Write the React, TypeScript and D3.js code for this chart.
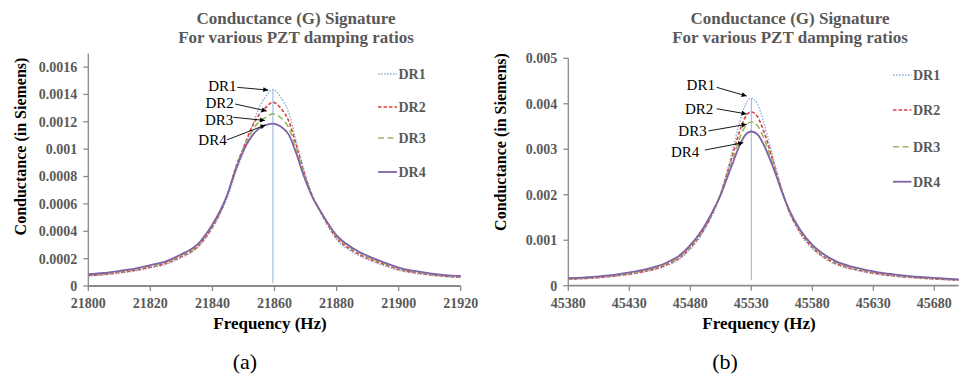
import React from "react";
import * as d3 from "d3";

// ---------- DATA ----------
const seriesNames = ["DR1", "DR2", "DR3", "DR4"];

// Panel (a)
const freqA = [21800, 21805, 21810, 21815, 21820, 21825, 21830, 21835, 21840, 21842.5, 21845, 21847.5, 21850, 21852.5, 21855, 21857, 21859.5, 21862, 21864.5, 21867, 21869.5, 21872, 21875, 21880, 21885, 21890, 21895, 21900, 21905, 21910, 21915, 21920];
const dr1A = [0.0000728, 0.0000808, 0.000094, 0.000109, 0.000132, 0.000158, 0.000207, 0.000275, 0.000423, 0.000529, 0.00066, 0.00083, 0.00098, 0.00115, 0.0013, 0.00138, 0.001436, 0.00138, 0.00127, 0.00106, 0.00085, 0.00067, 0.00053, 0.00034, 0.00025, 0.000193, 0.000151, 0.000115, 0.0000937, 0.0000789, 0.0000676, 0.0000615];
const dr2A = [0.0000771, 0.0000853, 0.0000993, 0.000115, 0.000139, 0.000166, 0.000216, 0.000284, 0.000433, 0.000538, 0.000678, 0.000867, 0.00101, 0.00115, 0.00125, 0.0013, 0.001343, 0.0013, 0.00121, 0.00103, 0.00083, 0.000668, 0.000535, 0.000352, 0.000261, 0.000202, 0.00016, 0.000121, 0.000099, 0.0000834, 0.0000716, 0.0000652];
const dr3A = [0.0000819, 0.0000905, 0.000105, 0.000122, 0.000146, 0.000174, 0.000225, 0.000293, 0.000443, 0.000546, 0.00068, 0.00086, 0.00101, 0.00112, 0.0012, 0.00123, 0.001258, 0.00123, 0.00116, 0.001, 0.000818, 0.000667, 0.000539, 0.000363, 0.000272, 0.000212, 0.000168, 0.000128, 0.000105, 0.0000885, 0.000076, 0.0000693];
const dr4A = [0.000086, 0.000095, 0.00011, 0.000127, 0.000152, 0.00018, 0.000232, 0.0003, 0.00045, 0.00055, 0.00068, 0.00085, 0.00099, 0.00109, 0.00115, 0.001175, 0.001187, 0.001165, 0.00111, 0.00097, 0.0008, 0.00066, 0.00054, 0.00037, 0.00028, 0.00022, 0.000175, 0.000134, 0.00011, 0.000093, 0.00008, 0.000073];
const dipFreqA = 21859.5;
const dipValuesA = [0.001436, 0.00002];
const xTicksA = [21800, 21820, 21840, 21860, 21880, 21900, 21920];
const xTickLabelsA = ["21800", "21820", "21840", "21860", "21880", "21900", "21920"];
const yTicksA = [0, 0.0002, 0.0004, 0.0006, 0.0008, 0.001, 0.0012, 0.0014, 0.0016];
const yTickLabelsA = ["0", "0.0002", "0.0004", "0.0006", "0.0008", "0.001", "0.0012", "0.0014", "0.0016"];
const annotLabelA = [[21847.8, 0.001464], [21846.9, 0.00134], [21846.7, 0.001213], [21844.6, 0.001072]];
const annotTailA = [[21848.0, 0.001452], [21847.3, 0.00133], [21846.75, 0.001233], [21844.6, 0.001067]];
const annotHeadA = [[21858.0, 0.001432], [21857.5, 0.001279], [21856.9, 0.00121], [21857.1, 0.001177]];

// Panel (b)
const freqB = [45380, 45400, 45420, 45440, 45460, 45470, 45480, 45490, 45500, 45505, 45510, 45515, 45520, 45525, 45530, 45535, 45540, 45545, 45550, 45555, 45560, 45570, 45580, 45590, 45600, 45620, 45640, 45660, 45680, 45700];
const dr1B = [0.000139, 0.000164, 0.000211, 0.000289, 0.000434, 0.000563, 0.000804, 0.001158, 0.001679, 0.00204, 0.0025, 0.00301, 0.00355, 0.00397, 0.00412, 0.004, 0.00361, 0.00311, 0.0026, 0.00211, 0.00169, 0.00115, 0.000813, 0.000598, 0.00046, 0.000315, 0.000228, 0.000176, 0.000143, 0.000118];
const dr2B = [0.000146, 0.000173, 0.000223, 0.000304, 0.000455, 0.000589, 0.000837, 0.001189, 0.0017, 0.00203, 0.00245, 0.0029, 0.00336, 0.0037, 0.00382, 0.00372, 0.00341, 0.003, 0.00254, 0.0021, 0.00171, 0.00118, 0.000846, 0.000626, 0.000482, 0.000331, 0.00024, 0.000186, 0.000151, 0.000124];
const dr3B = [0.000156, 0.000184, 0.000237, 0.000323, 0.000479, 0.000617, 0.000865, 0.001219, 0.001711, 0.002014, 0.00241, 0.0028, 0.00321, 0.0035, 0.0036, 0.00352, 0.00326, 0.0029, 0.0025, 0.00208, 0.00172, 0.00121, 0.000875, 0.000655, 0.000508, 0.000352, 0.000256, 0.000198, 0.000161, 0.000132];
const dr4B = [0.000165, 0.000195, 0.00025, 0.00034, 0.0005, 0.00064, 0.00089, 0.00124, 0.00172, 0.002, 0.00236, 0.00271, 0.00306, 0.00331, 0.00339, 0.00333, 0.00311, 0.0028, 0.00245, 0.00207, 0.00173, 0.00123, 0.0009, 0.00068, 0.00053, 0.00037, 0.00027, 0.00021, 0.00017, 0.00014];
const dipFreqB = 45530;
const dipValuesB = [0.00412, 0.00012];
const xTicksB = [45380, 45430, 45480, 45530, 45580, 45630, 45680];
const xTickLabelsB = ["45380", "45430", "45480", "45530", "45580", "45630", "45680"];
const yTicksB = [0, 0.001, 0.002, 0.003, 0.004, 0.005];
const yTickLabelsB = ["0", "0.001", "0.002", "0.003", "0.004", "0.005"];
const annotLabelB = [[45500.2, 0.004413], [45498.9, 0.0039], [45493.4, 0.003415], [45487.4, 0.002946]];
const annotTailB = [[45501.6, 0.004362], [45501.6, 0.003892], [45494.8, 0.003402], [45492.0, 0.002984]];
const annotHeadB = [[45526.2, 0.004171], [45526.2, 0.003775], [45526.2, 0.003549], [45523.4, 0.003144]];

const titleLines = ["Conductance (G) Signature", "For various PZT damping ratios"];
const xTitle = "Frequency (Hz)";
const yTitle = "Conductance (in Siemens)";

// ---------- STYLES ----------
const SERIF = "'Liberation Serif', 'Times New Roman', serif";
const GREY = "#595959";
const AXIS = "#8a8a8a";
const lineStyles = [
  { color: "#8EB1DC", dash: "1.6,1.4", width: 1.4 },
  { color: "#D9423C", dash: "3.5,2", width: 1.6 },
  { color: "#9BBB59", dash: "6,3.5", width: 1.6 },
  { color: "#7F62A8", dash: null as string | null, width: 1.8 },
];

type PanelProps = {
  id: string;
  freq: number[];
  series: number[][];
  dipFreq: number;
  dipValues: number[];
  xDomain: [number, number];
  xRange: [number, number];
  yDomain: [number, number];
  yRange: [number, number];
  xTicks: number[];
  xTickLabels: string[];
  yTicks: number[];
  yTickLabels: string[];
  annotLabel: number[][];
  annotTail: number[][];
  annotHead: number[][];
  titleX: number;
  yTitleX: number;
  yTitleY: number;
  xTitleX: number;
  legendX: number;
  legendYs: number[];
  legendLen: number;
  yLabelGap: number;
  caption: string;
  captionX: number;
};

function Panel(p: PanelProps) {
  const x = d3.scaleLinear().domain(p.xDomain).range(p.xRange);
  const y = d3.scaleLinear().domain(p.yDomain).range(p.yRange);
  const line = d3
    .line<[number, number]>()
    .x((d) => x(d[0]))
    .y((d) => y(d[1]))
    .curve(d3.curveMonotoneX);
  const [x0, x1] = p.xRange;
  const [yb, yt] = p.yRange;
  return (
    <g>
      <text x={p.titleX} y={24} textAnchor="middle" fontFamily={SERIF} fontWeight="bold" fontSize={17} fill={GREY}>
        {titleLines[0]}
      </text>
      <text x={p.titleX} y={43} textAnchor="middle" fontFamily={SERIF} fontWeight="bold" fontSize={17} fill={GREY}>
        {titleLines[1]}
      </text>

      <line x1={x0} x2={x0} y1={yb} y2={yt} stroke={AXIS} strokeWidth={1.3} />
      <line x1={x0} x2={x1} y1={yb} y2={yb} stroke={AXIS} strokeWidth={1.8} />
      {p.yTicks.map((t, i) => (
        <g key={"yt" + i}>
          <line x1={x0 - 5} x2={x0} y1={y(t)} y2={y(t)} stroke={AXIS} strokeWidth={1.3} />
          <text x={x0 - p.yLabelGap} y={y(t)} dy="0.35em" textAnchor="end" fontFamily={SERIF} fontWeight="bold" fontSize={14} fill={GREY}>
            {p.yTickLabels[i]}
          </text>
        </g>
      ))}
      {p.xTicks.map((t, i) => (
        <g key={"xt" + i}>
          <line x1={x(t)} x2={x(t)} y1={yb} y2={yb + 5} stroke={AXIS} strokeWidth={1.3} />
          <text x={x(t)} y={yb + 22} textAnchor="middle" fontFamily={SERIF} fontWeight="bold" fontSize={14} fill={GREY}>
            {p.xTickLabels[i]}
          </text>
        </g>
      ))}

      <text x={p.xTitleX} y={329} textAnchor="middle" fontFamily={SERIF} fontWeight="bold" fontSize={17} fill="#000">
        {xTitle}
      </text>
      <text
        transform={`translate(${p.yTitleX},${p.yTitleY}) rotate(-90)`}
        textAnchor="middle"
        dy="0.35em"
        fontFamily={SERIF}
        fontWeight="bold"
        fontSize={16}
        fill="#000"
      >
        {yTitle}
      </text>

      <line
        x1={x(p.dipFreq)}
        x2={x(p.dipFreq)}
        y1={y(p.dipValues[0])}
        y2={y(p.dipValues[1])}
        stroke={lineStyles[0].color}
        strokeWidth={1}
      />

      {p.series.map((vals, si) => {
        const pts = p.freq.map((f, i) => [f, vals[i]] as [number, number]);
        const st = lineStyles[si];
        return (
          <path
            key={"s" + si}
            d={line(pts) || ""}
            fill="none"
            stroke={st.color}
            strokeWidth={st.width}
            strokeDasharray={st.dash || undefined}
          />
        );
      })}

      {seriesNames.map((n, i) => {
        const lx = x(p.annotLabel[i][0]);
        const ly = y(p.annotLabel[i][1]);
        const tx = x(p.annotTail[i][0]);
        const ty = y(p.annotTail[i][1]);
        const hx = x(p.annotHead[i][0]);
        const hy = y(p.annotHead[i][1]);
        return (
          <g key={"an" + i}>
            <text x={lx} y={ly} dy="0.35em" textAnchor="end" fontFamily={SERIF} fontSize={15} fill="#000">
              {n}
            </text>
            <line x1={tx} y1={ty} x2={hx} y2={hy} stroke="#000" strokeWidth={0.9} markerEnd={`url(#arrow-${p.id})`} />
          </g>
        );
      })}

      {seriesNames.map((n, i) => {
        const st = lineStyles[i];
        const ly = p.legendYs[i];
        return (
          <g key={"lg" + i}>
            <line
              x1={p.legendX}
              x2={p.legendX + p.legendLen}
              y1={ly}
              y2={ly}
              stroke={st.color}
              strokeWidth={st.width}
              strokeDasharray={st.dash || undefined}
            />
            <text x={p.legendX + p.legendLen + 1.5} y={ly} dy="0.35em" fontFamily={SERIF} fontWeight="bold" fontSize={14} fill={GREY}>
              {n}
            </text>
          </g>
        );
      })}

      <text x={p.captionX} y={369} textAnchor="middle" fontFamily={SERIF} fontSize={22} fill="#000">
        {p.caption}
      </text>
    </g>
  );
}

export default function App() {
  return (
    <svg
      width={962}
      height={376}
      viewBox="0 0 962 376"
      style={{ position: "absolute", left: 0, top: 0, background: "#fff" }}
    >
      <defs>
        {["a", "b"].map((id) => (
          <marker
            key={id}
            id={`arrow-${id}`}
            viewBox="0 0 10 10"
            refX={10}
            refY={5}
            markerWidth={6}
            markerHeight={5}
            markerUnits="userSpaceOnUse"
            orient="auto"
          >
            <path d="M0,0 L10,5 L0,10 z" fill="#000" />
          </marker>
        ))}
      </defs>
      <rect x={0} y={0} width={962} height={376} fill="#fff" />
      <Panel
        id="a"
        freq={freqA}
        series={[dr1A, dr2A, dr3A, dr4A]}
        dipFreq={dipFreqA}
        dipValues={dipValuesA}
        xDomain={[21800, 21920]}
        xRange={[88.3, 460.7]}
        yDomain={[0, 0.0017]}
        yRange={[286, 53.4]}
        xTicks={xTicksA}
        xTickLabels={xTickLabelsA}
        yTicks={yTicksA}
        yTickLabels={yTickLabelsA}
        annotLabel={annotLabelA}
        annotTail={annotTailA}
        annotHead={annotHeadA}
        titleX={296}
        yTitleX={20}
        yTitleY={146.5}
        xTitleX={270}
        legendX={378}
        legendYs={[74, 107, 138, 172]}
        legendLen={19}
        yLabelGap={11}
        caption="(a)"
        captionX={245}
      />
      <Panel
        id="b"
        freq={freqB}
        series={[dr1B, dr2B, dr3B, dr4B]}
        dipFreq={dipFreqB}
        dipValues={dipValuesB}
        xDomain={[45380, 45700]}
        xRange={[568.3, 958.7]}
        yDomain={[0, 0.005]}
        yRange={[285.7, 58.3]}
        xTicks={xTicksB}
        xTickLabels={xTickLabelsB}
        yTicks={yTicksB}
        yTickLabels={yTickLabelsB}
        annotLabel={annotLabelB}
        annotTail={annotTailB}
        annotHead={annotHeadB}
        titleX={790}
        yTitleX={500}
        yTitleY={142}
        xTitleX={759}
        legendX={893}
        legendYs={[75, 110, 146.7, 181.7]}
        legendLen={18.5}
        yLabelGap={11}
        caption="(b)"
        captionX={725}
      />
    </svg>
  );
}
